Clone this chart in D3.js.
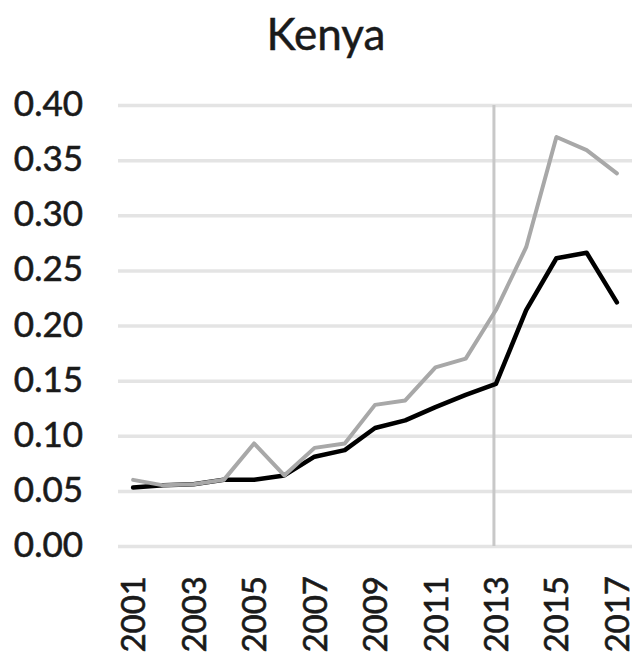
<!DOCTYPE html>
<html>
<head>
<meta charset="utf-8">
<script src="https://cdn.jsdelivr.net/npm/d3@7"></script>
<style>
  html, body { margin: 0; padding: 0; background: #ffffff; }
  svg { display: block; }
  text { font-family: Lato, "Open Sans", sans-serif; fill: #1a1a1a; }
</style>
</head>
<body>
<svg id="chart" width="632" height="656"></svg>
<script>
const title = "Kenya";
const years = [2001, 2002, 2003, 2004, 2005, 2006, 2007, 2008, 2009, 2010, 2011, 2012, 2013, 2014, 2015, 2016, 2017];
const grayValues  = [0.060, 0.055, 0.056, 0.060, 0.093, 0.064, 0.089, 0.093, 0.128, 0.132, 0.162, 0.170, 0.214, 0.271, 0.371, 0.359, 0.338];
const blackValues = [0.053, 0.055, 0.056, 0.060, 0.060, 0.064, 0.081, 0.087, 0.107, 0.114, 0.126, 0.137, 0.147, 0.214, 0.261, 0.266, 0.221];
const yTicks = [0, 0.05, 0.10, 0.15, 0.20, 0.25, 0.30, 0.35, 0.40];
const xTickLabels = [2001, 2003, 2005, 2007, 2009, 2011, 2013, 2015, 2017];
const markerYear = 2013;

const svg = d3.select("#chart");
const W = 632, H = 656;
const plot = { left: 118, right: 632, top: 105, bottom: 546 };

const x = d3.scalePoint().domain(years).range([plot.left, plot.right]).padding(0.5);
const y = d3.scaleLinear().domain([0, 0.40]).range([plot.bottom, plot.top]);

svg.append("rect").attr("width", W).attr("height", H).attr("fill", "#ffffff");

// Title
svg.append("text")
  .attr("x", 326).attr("y", 50)
  .attr("text-anchor", "middle")
  .style("font-size", "44px")
  .attr("stroke", "#1a1a1a").attr("stroke-width", 0.5)
  .text(title);

// Gridlines + y labels
const yAxis = d3.axisLeft(y).tickValues(yTicks).tickSize(-(plot.right - plot.left)).tickFormat(d3.format(".2f"));
const gy = svg.append("g").attr("transform", `translate(${plot.left},0)`).call(yAxis);
gy.select(".domain").remove();
gy.selectAll(".tick line").attr("stroke", "#e4e4e4").attr("stroke-width", 3.5);
gy.selectAll(".tick text")
  .attr("x", 83 - plot.left)
  .attr("dy", "0.30em")
  .attr("text-anchor", "end")
  .style("font-size", "35px")
  .attr("fill", "#1a1a1a")
  .attr("stroke", "#1a1a1a").attr("stroke-width", 0.6);

// Vertical marker line
svg.append("line")
  .attr("x1", x(markerYear) - 2).attr("x2", x(markerYear) - 2)
  .attr("y1", y(0.40)).attr("y2", y(0))
  .attr("stroke", "#c8c8c8").attr("stroke-width", 3);

// X axis labels
const xAxis = d3.axisBottom(x).tickValues(xTickLabels).tickSize(0).tickFormat(d3.format("d"));
const gx = svg.append("g").attr("transform", `translate(0,${plot.bottom})`).call(xAxis);
gx.select(".domain").remove();
gx.selectAll(".tick text")
  .attr("transform", "rotate(-90)")
  .attr("x", -(576 - plot.bottom))
  .attr("y", 0)
  .attr("dy", "0.35em")
  .attr("text-anchor", "end")
  .style("font-size", "33px")
  .attr("fill", "#1a1a1a")
  .attr("stroke", "#1a1a1a").attr("stroke-width", 0.6);

// Lines
const line = d3.line().x((d, i) => x(years[i])).y(d => y(d));
svg.append("path")
  .datum(blackValues)
  .attr("d", line)
  .attr("fill", "none")
  .attr("stroke", "#000000")
  .attr("stroke-width", 4.5)
  .attr("stroke-linejoin", "round")
  .attr("stroke-linecap", "round");
svg.append("path")
  .datum(grayValues)
  .attr("d", line)
  .attr("fill", "none")
  .attr("stroke", "#a8a8a8")
  .attr("stroke-width", 4)
  .attr("stroke-linejoin", "round")
  .attr("stroke-linecap", "round");
</script>
</body>
</html>
